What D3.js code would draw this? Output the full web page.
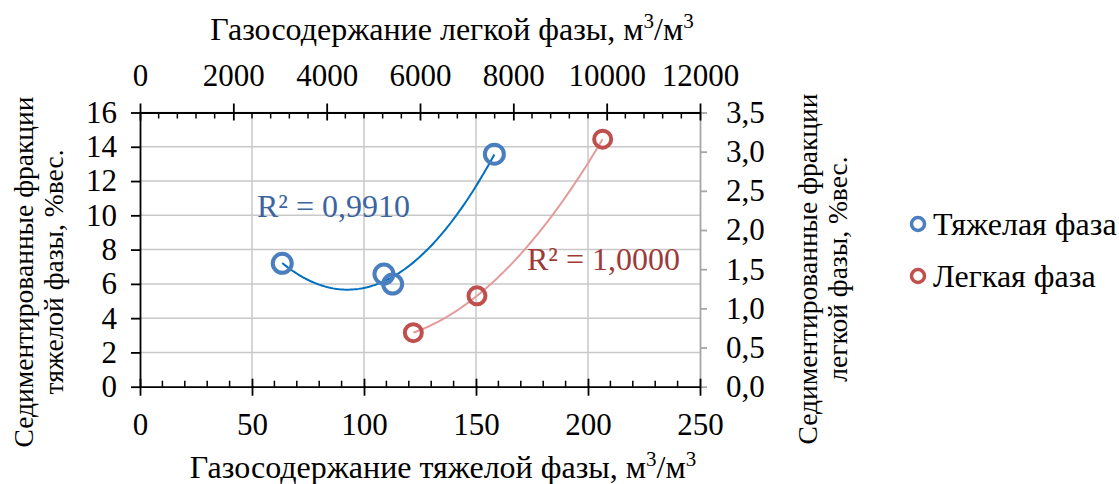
<!DOCTYPE html>
<html>
<head>
<meta charset="utf-8">
<script src="https://cdn.jsdelivr.net/npm/d3@7"></script>
<style>
  body { margin: 0; background: #fff; }
  svg text { font-family: "Liberation Serif", "Times New Roman", serif; }
</style>
</head>
<body>
<div class="chart"></div>
<script>
// Data
let heavyGas = [63.5, 108.9, 112.8, 158.2];   // bottom axis, m3/m3
let heavySed = [7.2, 6.57, 5.99, 13.57];      // left axis, %
let lightGas = [5857, 7221, 9914];            // top axis, m3/m3
let lightSed = [0.69, 1.16, 3.16];            // right axis, %

let bottomTicks = [0, 50, 100, 150, 200, 250];
let topTicks = [0, 2000, 4000, 6000, 8000, 10000, 12000];
let leftTicks = [0, 2, 4, 6, 8, 10, 12, 14, 16];
let rightTicks = [0, 0.5, 1, 1.5, 2, 2.5, 3, 3.5];

let seriesNames = ["Тяжелая фаза", "Легкая фаза"];
let r2Labels = ["R² = 0,9910", "R² = 1,0000"];

// Set up chart
let svgWidth = 1119;
let svgHeight = 484;
let margin = { top: 112.5, right: 419, bottom: 97.3, left: 140 };
let chartWidth = svgWidth - margin.left - margin.right;
let chartHeight = svgHeight - margin.top - margin.bottom;

let serif = '"Liberation Serif", "Times New Roman", serif';
let tickFont = 31;
let titleFont = 32;
let heavyColor = "#4A7EBF";
let heavyTrend = "#0070C0";
let lightColor = "#C0504D";
let lightTrend = "#E29C9B";
let gridColor = "#C8C8C8";

let svg = d3.select(".chart")
  .append("svg")
  .attr("width", svgWidth)
  .attr("height", svgHeight)
  .style("font-family", serif);

let chart = svg.append("g")
  .attr("transform", `translate(${margin.left}, ${margin.top})`);

// Scales
let xBottom = d3.scaleLinear().domain([0, 250]).range([0, chartWidth]);
let xTop = d3.scaleLinear().domain([0, 12000]).range([0, chartWidth]);
let yLeft = d3.scaleLinear().domain([0, 16]).range([chartHeight, 0]);
let yRight = d3.scaleLinear().domain([0, 3.5]).range([chartHeight, 0]);

let plain = d => String(d);
let comma1 = d => d3.format(".1f")(d).replace(".", ",");

// Gridlines
chart.append("g")
  .selectAll("line")
  .data(leftTicks.slice(1))
  .enter().append("line")
  .attr("x1", 0).attr("x2", chartWidth)
  .attr("y1", d => yLeft(d)).attr("y2", d => yLeft(d))
  .attr("stroke", gridColor).attr("stroke-width", 1.5);

chart.append("g")
  .selectAll("line")
  .data(bottomTicks.slice(1, -1))
  .enter().append("line")
  .attr("x1", d => xBottom(d)).attr("x2", d => xBottom(d))
  .attr("y1", 0).attr("y2", chartHeight)
  .attr("stroke", gridColor).attr("stroke-width", 1.5);

// Minor ticks (inside)
chart.append("g")
  .selectAll("line")
  .data(d3.range(0, 250, 10).filter(d => d % 50 !== 0))
  .enter().append("line")
  .attr("x1", d => xBottom(d)).attr("x2", d => xBottom(d))
  .attr("y1", chartHeight).attr("y2", chartHeight - 6)
  .attr("stroke", "#000").attr("stroke-width", 1.5);

chart.append("g")
  .selectAll("line")
  .data(d3.range(0, 12000, 400).filter(d => d % 2000 !== 0))
  .enter().append("line")
  .attr("x1", d => xTop(d)).attr("x2", d => xTop(d))
  .attr("y1", 0).attr("y2", 6)
  .attr("stroke", "#000").attr("stroke-width", 1.5);

// Axes
function styleAxis(g, color) {
  g.attr("font-family", null).attr("font-size", null);
  g.select(".domain").attr("stroke", color).attr("stroke-width", 1.8);
  g.selectAll(".tick line").attr("stroke", color).attr("stroke-width", 1.8);
  g.selectAll(".tick text")
    .attr("fill", "#000")
    .style("font-size", tickFont + "px")
    .style("font-family", serif);
}

chart.append("g")
  .attr("transform", `translate(${chartWidth}, 0)`)
  .call(d3.axisRight(yRight).tickValues(rightTicks).tickFormat(comma1).tickSize(7).tickSizeOuter(0).tickPadding(19))
  .call(g => styleAxis(g, "#A6A6A6"));

chart.append("g")
  .call(d3.axisLeft(yLeft).tickValues(leftTicks).tickFormat(plain).tickSize(9).tickSizeOuter(0).tickPadding(14))
  .call(g => styleAxis(g, "#000"));

let bottomAxis = chart.append("g")
  .attr("transform", `translate(0, ${chartHeight})`)
  .call(d3.axisBottom(xBottom).tickValues(bottomTicks).tickFormat(plain).tickSize(9).tickSizeOuter(0).tickPadding(17))
  .call(g => styleAxis(g, "#000"));
bottomAxis.selectAll(".tick line").attr("y1", -8);

let topAxis = chart.append("g")
  .call(d3.axisTop(xTop).tickValues(topTicks).tickFormat(plain).tickSize(9).tickSizeOuter(0).tickPadding(18))
  .call(g => styleAxis(g, "#000"));
topAxis.selectAll(".tick line").attr("y1", 8);

// Quadratic least-squares fit for the trendlines
function polyfit2(xs, ys) {
  let s = [0, 0, 0, 0, 0], t = [0, 0, 0];
  xs.forEach((x, i) => {
    for (let k = 0; k < 5; k++) s[k] += Math.pow(x, k);
    for (let k = 0; k < 3; k++) t[k] += Math.pow(x, k) * ys[i];
  });
  let m = [[s[0], s[1], s[2], t[0]], [s[1], s[2], s[3], t[1]], [s[2], s[3], s[4], t[2]]];
  for (let i = 0; i < 3; i++) {
    for (let j = i + 1; j < 3; j++) {
      let f = m[j][i] / m[i][i];
      for (let k = i; k < 4; k++) m[j][k] -= f * m[i][k];
    }
  }
  let c = [0, 0, 0];
  for (let i = 2; i >= 0; i--) {
    let v = m[i][3];
    for (let k = i + 1; k < 3; k++) v -= m[i][k] * c[k];
    c[i] = v / m[i][i];
  }
  return x => c[0] + c[1] * x + c[2] * x * x;
}

function trend(xs, ys, xScale, yScale, color) {
  let f = polyfit2(xs, ys);
  let lo = d3.min(xs), hi = d3.max(xs);
  let pts = d3.range(0, 101).map(i => lo + (hi - lo) * i / 100);
  chart.append("path")
    .datum(pts)
    .attr("fill", "none")
    .attr("stroke", color)
    .attr("stroke-width", 2)
    .attr("d", d3.line().x(d => xScale(d)).y(d => yScale(f(d))));
}

trend(heavyGas, heavySed, xBottom, yLeft, heavyTrend);
trend(lightGas, lightSed, xTop, yRight, lightTrend);

// Points
chart.append("g")
  .selectAll("circle")
  .data(heavyGas)
  .enter().append("circle")
  .attr("cx", d => xBottom(d))
  .attr("cy", (d, i) => yLeft(heavySed[i]))
  .attr("r", 9.5)
  .attr("fill", "none")
  .attr("stroke", heavyColor)
  .attr("stroke-width", 4);

chart.append("g")
  .selectAll("circle")
  .data(lightGas)
  .enter().append("circle")
  .attr("cx", d => xTop(d))
  .attr("cy", (d, i) => yRight(lightSed[i]))
  .attr("r", 8.5)
  .attr("fill", "none")
  .attr("stroke", lightColor)
  .attr("stroke-width", 4);

// R² labels
svg.append("text")
  .attr("x", 257).attr("y", 217)
  .attr("fill", "#3B64A0")
  .style("font-size", "32px")
  .text(r2Labels[0]);

svg.append("text")
  .attr("x", 527).attr("y", 270)
  .attr("fill", "#9E3A38")
  .style("font-size", "32px")
  .text(r2Labels[1]);

// Axis titles
function unitTitle(x, y, label) {
  let t = svg.append("text")
    .attr("x", x).attr("y", y)
    .attr("text-anchor", "middle")
    .style("font-size", titleFont + "px");
  t.append("tspan").text(label + ", м");
  t.append("tspan").attr("baseline-shift", "super").style("font-size", "21px").text("3");
  t.append("tspan").text("/м");
  t.append("tspan").attr("baseline-shift", "super").style("font-size", "21px").text("3");
}
unitTitle(452, 40, "Газосодержание легкой фазы");
unitTitle(443, 478, "Газосодержание тяжелой фазы");

function yTitle(cx, cy, lines) {
  let t = svg.append("text")
    .attr("transform", `translate(${cx}, ${cy}) rotate(-90)`)
    .attr("text-anchor", "middle")
    .style("font-size", "27.5px");
  lines.forEach((l, i) => {
    t.append("tspan").attr("x", 0).attr("y", i * 30).text(l);
  });
}
yTitle(33, 272, ["Седиментированные фракции", "тяжелой фазы, %вес."]);
yTitle(817, 269, ["Седиментированные фракции", "легкой фазы, %вес."]);

// Legend
let legend = svg.append("g");
let legendColors = [heavyColor, lightColor];
seriesNames.forEach((name, i) => {
  let y = 224 + i * 52;
  legend.append("circle")
    .attr("cx", 918).attr("cy", y).attr("r", 6.5)
    .attr("fill", "none").attr("stroke", legendColors[i]).attr("stroke-width", 3.5);
  legend.append("text")
    .attr("x", 933).attr("y", y + 11)
    .style("font-size", titleFont + "px")
    .text(name);
});
</script>
</body>
</html>
